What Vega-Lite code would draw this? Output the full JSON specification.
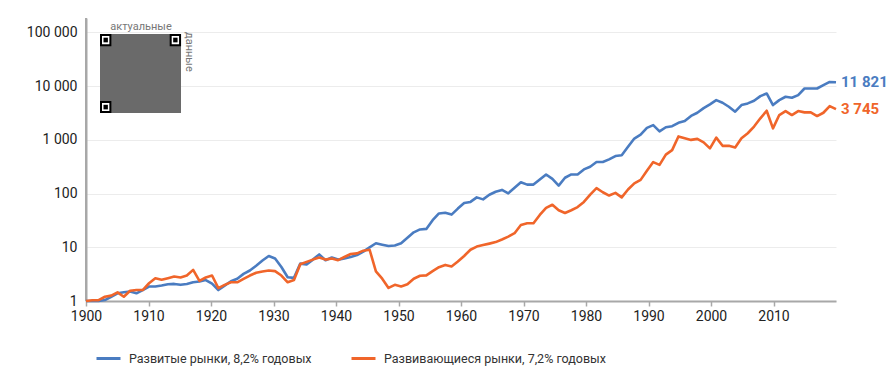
{
  "$schema": "https://vega.github.io/schema/vega-lite/v6.json",
  "width": 750,
  "height": 283,
  "autosize": {"type": "none"},
  "padding": {"left": 86, "top": 18, "right": 59, "bottom": 84},
  "config": {
    "locale": {"number": {"decimal": ",", "thousands": " ", "grouping": [3], "currency": ["", ""]}},
    "view": {"stroke": null},
    "font": "Roboto",
    "axisY": {"domain": true, "domainColor": "#a8a8a8", "domainWidth": 2, "ticks": false, "gridColor": "#ececec", "gridWidth": 1,
      "labelFontSize": 14, "labelColor": "#222", "labelPadding": 9, "labelFont": "Roboto", "labelFlush": false, "title": null},
    "axisX": {"domain": true, "domainColor": "#a8a8a8", "domainWidth": 2, "tickColor": "#a8a8a8", "tickWidth": 1.5, "tickSize": 5, "grid": false,
      "labelFontSize": 14, "labelColor": "#222", "labelPadding": 3, "labelFont": "Roboto", "labelFlush": false, "title": null}
  },
  "datasets": {
    "d": [
      {"year":1900,"dev":1.0,"em":1.0},{"year":1901,"dev":1.0,"em":1.03},{"year":1902,"dev":1.0,"em":1.04},{"year":1903,"dev":1.04,"em":1.2},{"year":1904,"dev":1.2,"em":1.26},
      {"year":1905,"dev":1.39,"em":1.45},{"year":1906,"dev":1.45,"em":1.2},{"year":1907,"dev":1.5,"em":1.55},{"year":1908,"dev":1.39,"em":1.6},{"year":1909,"dev":1.6,"em":1.6},
      {"year":1910,"dev":1.86,"em":2.14},{"year":1911,"dev":1.86,"em":2.66},{"year":1912,"dev":1.94,"em":2.48},{"year":1913,"dev":2.05,"em":2.66},{"year":1914,"dev":2.08,"em":2.86},
      {"year":1915,"dev":2.0,"em":2.74},{"year":1916,"dev":2.08,"em":2.98},{"year":1917,"dev":2.24,"em":3.8},{"year":1918,"dev":2.3,"em":2.37},{"year":1919,"dev":2.45,"em":2.74},
      {"year":1920,"dev":2.1,"em":2.98},{"year":1921,"dev":1.6,"em":1.74},{"year":1922,"dev":1.93,"em":2.0},{"year":1923,"dev":2.33,"em":2.23},{"year":1924,"dev":2.6,"em":2.23},
      {"year":1925,"dev":3.2,"em":2.58},{"year":1926,"dev":3.7,"em":2.98},{"year":1927,"dev":4.55,"em":3.35},{"year":1928,"dev":5.66,"em":3.55},{"year":1929,"dev":6.9,"em":3.7},
      {"year":1930,"dev":6.2,"em":3.6},{"year":1931,"dev":4.3,"em":2.98},{"year":1932,"dev":2.77,"em":2.23},{"year":1933,"dev":2.7,"em":2.45},{"year":1934,"dev":4.97,"em":4.83},
      {"year":1935,"dev":4.8,"em":5.35},{"year":1936,"dev":5.9,"em":5.9},{"year":1937,"dev":7.36,"em":6.45},{"year":1938,"dev":5.75,"em":5.9},{"year":1939,"dev":6.45,"em":6.2},
      {"year":1940,"dev":5.9,"em":5.75},{"year":1941,"dev":6.2,"em":6.6},{"year":1942,"dev":6.6,"em":7.5},{"year":1943,"dev":7.15,"em":7.7},{"year":1944,"dev":8.3,"em":8.65},
      {"year":1945,"dev":10,"em":9.0},{"year":1946,"dev":11.9,"em":3.55},{"year":1947,"dev":11.2,"em":2.6},{"year":1948,"dev":10.6,"em":1.75},{"year":1949,"dev":10.8,"em":2.0},
      {"year":1950,"dev":11.9,"em":1.87},{"year":1951,"dev":15,"em":2.05},{"year":1952,"dev":19,"em":2.6},{"year":1953,"dev":21.5,"em":2.95},{"year":1954,"dev":22,"em":3.0},
      {"year":1955,"dev":32,"em":3.6},{"year":1956,"dev":42.7,"em":4.26},{"year":1957,"dev":44,"em":4.7},{"year":1958,"dev":40.6,"em":4.4},{"year":1959,"dev":52.6,"em":5.43},
      {"year":1960,"dev":67,"em":6.9},{"year":1961,"dev":70,"em":9.0},{"year":1962,"dev":85,"em":10.3},{"year":1963,"dev":78,"em":11},{"year":1964,"dev":95,"em":11.7},
      {"year":1965,"dev":108,"em":12.5},{"year":1966,"dev":117,"em":14},{"year":1967,"dev":101,"em":15.8},{"year":1968,"dev":128,"em":18.3},{"year":1969,"dev":162,"em":26},
      {"year":1970,"dev":147,"em":28},{"year":1971,"dev":147,"em":28},{"year":1972,"dev":183,"em":40},{"year":1973,"dev":227,"em":54},{"year":1974,"dev":188,"em":62},
      {"year":1975,"dev":141,"em":49},{"year":1976,"dev":197,"em":43.5},{"year":1977,"dev":227,"em":49},{"year":1978,"dev":227,"em":56},{"year":1979,"dev":282,"em":70},
      {"year":1980,"dev":316,"em":96},{"year":1981,"dev":387,"em":126},{"year":1982,"dev":387,"em":106},{"year":1983,"dev":433,"em":92},{"year":1984,"dev":500,"em":103},
      {"year":1985,"dev":517,"em":85},{"year":1986,"dev":745,"em":119},{"year":1987,"dev":1060,"em":155},{"year":1988,"dev":1250,"em":180},{"year":1989,"dev":1670,"em":267},
      {"year":1990,"dev":1880,"em":386},{"year":1991,"dev":1440,"em":343},{"year":1992,"dev":1720,"em":532},{"year":1993,"dev":1800,"em":645},{"year":1994,"dev":2080,"em":1160},
      {"year":1995,"dev":2240,"em":1076},{"year":1996,"dev":2790,"em":1000},{"year":1997,"dev":3200,"em":1045},{"year":1998,"dev":3900,"em":900},{"year":1999,"dev":4600,"em":693},
      {"year":2000,"dev":5500,"em":1100},{"year":2001,"dev":4910,"em":775},{"year":2002,"dev":4140,"em":775},{"year":2003,"dev":3350,"em":720},{"year":2004,"dev":4450,"em":1070},
      {"year":2005,"dev":4780,"em":1330},{"year":2006,"dev":5350,"em":1770},{"year":2007,"dev":6530,"em":2520},{"year":2008,"dev":7310,"em":3490},{"year":2009,"dev":4450,"em":1640},
      {"year":2010,"dev":5500,"em":2900},{"year":2011,"dev":6350,"em":3440},{"year":2012,"dev":6080,"em":2900},{"year":2013,"dev":6810,"em":3440},{"year":2014,"dev":9050,"em":3250},
      {"year":2015,"dev":9050,"em":3250},{"year":2016,"dev":9050,"em":2780},{"year":2017,"dev":10440,"em":3200},{"year":2018,"dev":12000,"em":4260},{"year":2019,"dev":11821,"em":3745}
    ]
  },
  "layer": [
    {
      "layer": [
        {
          "data": {"name": "d"},
          "transform": [{"fold": ["dev", "em"], "as": ["series", "value"]}],
          "mark": {"type": "point", "opacity": 0},
          "encoding": {
            "x": {"field": "year", "type": "quantitative",
              "scale": {"domain": [1900, 2020], "nice": false, "zero": false},
              "axis": {"values": [1900,1910,1920,1930,1940,1950,1960,1970,1980,1990,2000,2010], "format": "d"}},
            "y": {"field": "value", "type": "quantitative",
              "scale": {"type": "log", "domain": [1, 186000], "nice": false},
              "axis": {"values": [1,10,100,1000,10000,100000], "format": ",d"}}
          }
        },
        {
          "data": {"values": [{}]},
          "mark": {"type": "rule", "color": "#a8a8a8", "strokeWidth": 2},
          "encoding": {"x": {"datum": 1900, "type": "quantitative"}, "y": {"datum": 1, "type": "quantitative"}, "y2": {"datum": 186000}}
        },
        {
          "data": {"values": [{}]},
          "mark": {"type": "rect", "fill": "#6a6a6a"},
          "encoding": {"x": {"datum": 1902.24, "type": "quantitative"}, "x2": {"datum": 1915.2}, "y": {"datum": 93700, "type": "quantitative"}, "y2": {"datum": 3170}}
        },
        {
          "data": {"values": [{}]},
          "mark": {"type": "rect", "fill": "white", "stroke": "black", "strokeWidth": 2},
          "encoding": {"x": {"datum": 1902.4, "type": "quantitative"}, "x2": {"datum": 1903.9}, "y": {"datum": 90000, "type": "quantitative"}, "y2": {"datum": 58000}}
        },
        {
          "data": {"values": [{}]},
          "mark": {"type": "rect", "fill": "white", "stroke": "black", "strokeWidth": 2},
          "encoding": {"x": {"datum": 1913.55, "type": "quantitative"}, "x2": {"datum": 1915.05}, "y": {"datum": 90000, "type": "quantitative"}, "y2": {"datum": 58000}}
        },
        {
          "data": {"values": [{}]},
          "mark": {"type": "rect", "fill": "white", "stroke": "black", "strokeWidth": 2},
          "encoding": {"x": {"datum": 1902.4, "type": "quantitative"}, "x2": {"datum": 1903.9}, "y": {"datum": 5100, "type": "quantitative"}, "y2": {"datum": 3300}}
        },
        {
          "data": {"values": [{}]},
          "mark": {"type": "rect", "fill": "black"},
          "encoding": {"x": {"datum": 1902.8, "type": "quantitative"}, "x2": {"datum": 1903.5}, "y": {"datum": 80000, "type": "quantitative"}, "y2": {"datum": 65500}}
        },
        {
          "data": {"values": [{}]},
          "mark": {"type": "rect", "fill": "black"},
          "encoding": {"x": {"datum": 1913.95, "type": "quantitative"}, "x2": {"datum": 1914.65}, "y": {"datum": 80000, "type": "quantitative"}, "y2": {"datum": 65500}}
        },
        {
          "data": {"values": [{}]},
          "mark": {"type": "rect", "fill": "black"},
          "encoding": {"x": {"datum": 1902.8, "type": "quantitative"}, "x2": {"datum": 1903.5}, "y": {"datum": 4500, "type": "quantitative"}, "y2": {"datum": 3700}}
        },
        {
          "data": {"values": [{}]},
          "mark": {"type": "text", "text": "актуальные", "fontSize": 11, "color": "#777", "align": "center", "baseline": "middle", "font": "Roboto"},
          "encoding": {"x": {"datum": 1908.8, "type": "quantitative"}, "y": {"datum": 125000, "type": "quantitative"}}
        },
        {
          "data": {"values": [{}]},
          "mark": {"type": "text", "text": "данные", "fontSize": 11, "color": "#777", "align": "center", "baseline": "middle", "angle": 90, "font": "Roboto"},
          "encoding": {"x": {"datum": 1916.5, "type": "quantitative"}, "y": {"datum": 43500, "type": "quantitative"}}
        }
      ]
    },
    {
      "data": {"name": "d"},
      "transform": [{"fold": ["dev", "em"], "as": ["series", "value"]}],
      "layer": [
        {
          "mark": {"type": "line", "strokeWidth": 2.6, "strokeJoin": "round"},
          "encoding": {
            "x": {"field": "year", "type": "quantitative", "scale": {"domain": [1900, 2019], "nice": false, "zero": false}, "axis": null},
            "y": {"field": "value", "type": "quantitative", "axis": {"values": [1,10,100,1000,10000,100000], "format": ",d"}},
            "color": {"field": "series", "type": "nominal",
              "scale": {"domain": ["dev", "em"], "range": ["#4a7cc1", "#f0652a"]},
              "legend": {"orient": "none", "legendX": 9, "legendY": 327, "direction": "horizontal", "title": null,
                "symbolType": "stroke", "symbolSize": 576, "symbolStrokeWidth": 3,
                "labelExpr": "datum.value == 'dev' ? 'Развитые рынки, 8,2% годовых' : 'Развивающиеся рынки, 7,2% годовых'",
                "labelFontSize": 12.5, "labelFont": "Roboto", "labelColor": "#333", "labelLimit": 400,
                "labelOffset": 7, "columnPadding": 33}}
          }
        },
        {
          "transform": [{"filter": "datum.year == 2019"}],
          "mark": {"type": "text", "align": "left", "baseline": "middle", "dx": 5, "fontSize": 15, "fontWeight": "bold", "font": "Roboto"},
          "encoding": {
            "x": {"field": "year", "type": "quantitative"},
            "y": {"field": "value", "type": "quantitative"},
            "text": {"field": "value", "type": "quantitative", "format": ",d"},
            "color": {"field": "series", "type": "nominal", "legend": null}
          }
        }
      ]
    }
  ],
  "resolve": {"scale": {"x": "independent"}}
}
